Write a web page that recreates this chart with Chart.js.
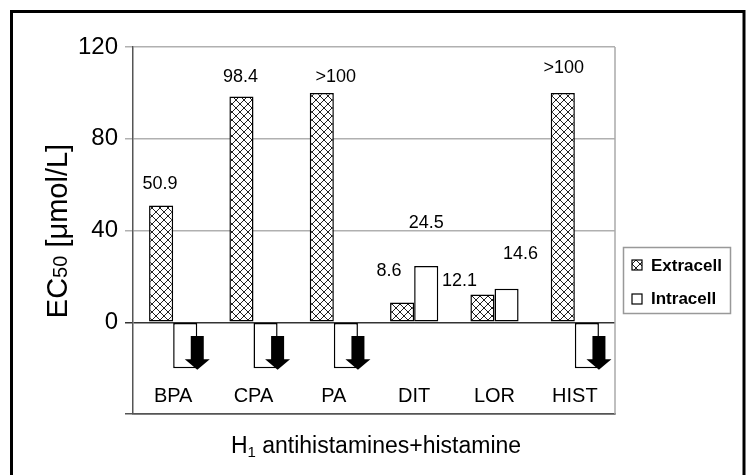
<!DOCTYPE html>
<html>
<head>
<meta charset="utf-8">
<script src="https://cdn.jsdelivr.net/npm/chart.js@4/dist/chart.umd.min.js"></script>
<style>
  body { margin: 0; background: #fff; }
  #wrap { width: 750px; height: 475px; }
</style>
</head>
<body>
<div id="wrap"><canvas id="grafica" width="750" height="475"></canvas></div>
<script>
// datos
var categorias = ["BPA", "CPA", "PA", "DIT", "LOR", "HIST"];
var extracell = [50.9, 98.4, 100, 8.6, 12.1, 100];
var intracell = [-20, -20, -20, 24.5, 14.6, -20];
var etiquetasExtra = ["50.9", "98.4", ">100", "8.6", "12.1", ">100"];
var etiquetasIntra = ["", "", "", "24.5", "14.6", ""];
var flechasIntra = [true, true, true, false, false, true];
var ticksY = [0, 40, 80, 120];

var fuente = "'Liberation Sans', Arial, sans-serif";

// trama cuadriculada diagonal
function crearTrama(){
	var c = document.createElement("canvas");
	c.width = 8; c.height = 8;
	var g = c.getContext("2d");
	g.fillStyle = "#fff";
	g.fillRect(0, 0, 8, 8);
	g.strokeStyle = "#222";
	g.lineWidth = 1;
	g.beginPath();
	g.moveTo(0, 0); g.lineTo(8, 8);
	g.moveTo(8, 0); g.lineTo(0, 8);
	g.stroke();
	return g.createPattern(c, "repeat");
}
var trama = crearTrama();

var pluginExtras = {
	id: "extras",
	beforeDatasetsDraw: function(chart){
		var a = chart.chartArea, c = chart.ctx;
		c.save();
		c.strokeStyle = "#aaa";
		c.lineWidth = 1.5;
		c.beginPath();
		c.moveTo(a.right, a.top);
		c.lineTo(a.right, a.bottom);
		c.stroke();
		c.restore();
	},
	afterDatasetsDraw: function(chart, args, opts){
		var c = chart.ctx;
		var metaE = chart.getDatasetMeta(0);
		var metaI = chart.getDatasetMeta(1);
		c.save();
		c.fillStyle = "#000";
		c.font = "18px " + fuente;
		c.textAlign = "center";
		c.textBaseline = "middle";
		metaE.data.forEach(function(el, i){
			var o = opts.despExtra[i];
			c.fillText(etiquetasExtra[i], el.x + o[0], el.y + o[1]);
		});
		metaI.data.forEach(function(el, i){
			if (etiquetasIntra[i]) {
				var o = opts.despIntra[i];
				c.fillText(etiquetasIntra[i], el.x + o[0], el.y + o[1]);
			}
			if (flechasIntra[i]) {
				var x = el.x + el.width / 2;
				var base = el.base, fondo = el.y;
				c.fillRect(x - 6.5, base + 13, 13, (fondo - base) - 21);
				c.beginPath();
				c.moveTo(x - 12.5, fondo - 9);
				c.lineTo(x + 12.5, fondo - 9);
				c.lineTo(x, fondo + 1.5);
				c.closePath();
				c.fill();
			}
		});
		// categorias dentro del area
		var sx = chart.scales.x;
		c.font = "20px " + fuente;
		categorias.forEach(function(cat, i){
			c.fillText(cat, sx.getPixelForValue(i), 396);
		});
		c.restore();
	},
	afterDraw: function(chart){
		var c = chart.ctx, a = chart.chartArea;
		c.save();
		c.fillStyle = "#000";
		// titulo eje y
		c.translate(57, 231);
		c.rotate(-Math.PI / 2);
		var p1 = "EC", p2 = "50", p3 = " [\u03bcmol/L]";
		c.font = "29px " + fuente;
		var w1 = c.measureText(p1).width, w3 = c.measureText(p3).width;
		c.font = "20px " + fuente;
		var w2 = c.measureText(p2).width;
		var x0 = -(w1 + w2 + w3) / 2;
		c.textAlign = "left";
		c.textBaseline = "alphabetic";
		c.font = "29px " + fuente;
		c.fillText(p1, x0, 10);
		c.font = "20px " + fuente;
		c.fillText(p2, x0 + w1, 10);
		c.font = "29px " + fuente;
		c.fillText(p3, x0 + w1 + w2, 10);
		c.restore();

		// titulo eje x
		c.save();
		c.fillStyle = "#000";
		c.textAlign = "left";
		c.textBaseline = "alphabetic";
		var q1 = "H", q2 = "1", q3 = " antihistamines+histamine";
		c.font = "23px " + fuente;
		var v1 = c.measureText(q1).width, v3 = c.measureText(q3).width;
		c.font = "15px " + fuente;
		var v2 = c.measureText(q2).width;
		var xs = 376 - (v1 + v2 + v3) / 2;
		c.font = "23px " + fuente;
		c.fillText(q1, xs, 453);
		c.font = "15px " + fuente;
		c.fillText(q2, xs + v1, 457);
		c.font = "23px " + fuente;
		c.fillText(q3, xs + v1 + v2, 453);
		c.restore();

		// leyenda
		c.save();
		c.strokeStyle = "#999";
		c.lineWidth = 1.5;
		c.strokeRect(623.5, 247.5, 107, 66);
		c.fillStyle = trama;
		c.fillRect(632, 260, 10, 10);
		c.strokeStyle = "#000";
		c.lineWidth = 1.2;
		c.strokeRect(632, 260, 10, 10);
		c.fillStyle = "#fff";
		c.fillRect(632, 294, 10, 10);
		c.strokeRect(632, 294, 10, 10);
		c.fillStyle = "#000";
		c.font = "bold 17px " + fuente;
		c.textAlign = "left";
		c.textBaseline = "middle";
		c.fillText(chart.data.datasets[0].label, 651, 266);
		c.fillText(chart.data.datasets[1].label, 651, 299);
		c.restore();

		// marco exterior
		c.save();
		c.strokeStyle = "#000";
		c.lineWidth = 3;
		c.strokeRect(11.5, 11.5, 732.5, 500);
		c.restore();
	}
};

var ctx = document.getElementById("grafica").getContext("2d");
var grafica = new Chart(ctx, {
	type: "bar",
	data: {
		labels: categorias,
		datasets: [
			{
				label: "Extracell",
				data: extracell,
				backgroundColor: trama,
				borderColor: "#000",
				borderWidth: 1.5,
				borderSkipped: false,
			},
			{
				label: "Intracell",
				data: intracell,
				backgroundColor: "#fff",
				borderColor: "#000",
				borderWidth: 1.5,
				borderSkipped: false,
			},
		],
	},
	plugins: [pluginExtras],
	options: {
		responsive: false,
		animation: false,
		events: [],
		layout: {
			padding: { left: 0, right: 135, top: 47, bottom: 0 }
		},
		datasets: {
			bar: { categoryPercentage: 0.6, barPercentage: 1.0 }
		},
		plugins: {
			legend: { display: false },
			tooltip: { enabled: false },
			extras: {
				despExtra: [[-1, -21], [-1, -20], [14, -16], [-13, -31], [-23, -13], [1, -25]],
				despIntra: [[0, 0], [0, 0], [0, 0], [0, -43], [14, -35], [0, 0]]
			}
		},
		scales: {
			x: {
				afterFit: function(s){ s.height = 61; },
				grid: { display: false, drawTicks: false },
				border: { display: true, color: "#555", width: 1.5 },
				ticks: { display: false }
			},
			y: {
				min: -40,
				max: 120,
				afterFit: function(s){ s.width = 133; },
				afterBuildTicks: function(s){
					s.ticks = [-40].concat(ticksY).map(function(v){ return { value: v }; });
				},
				grid: {
					color: function(c){
						if (c.tick.value === 0) return "#333";
						if (c.tick.value === -40) return "#555";
						return "#b0b0b0";
					},
					lineWidth: 1.5,
					tickLength: 8,
				},
				border: { display: true, color: "#555", width: 1.5 },
				ticks: {
					color: "#000",
					padding: 7,
					font: { size: 24, family: fuente },
					callback: function(v){ return v < 0 ? "" : v; }
				}
			}
		}
	}
});
</script>
</body>
</html>
